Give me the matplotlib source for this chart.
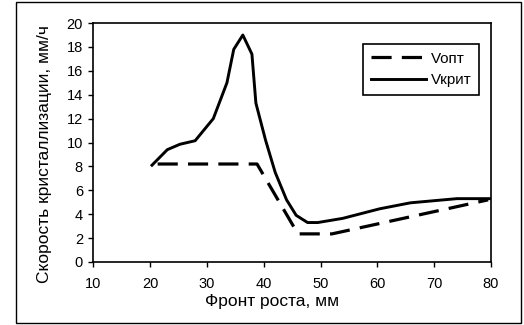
import matplotlib
matplotlib.use('Agg')
import matplotlib.pyplot as plt
from matplotlib.patches import Rectangle

plt.rcParams['font.family'] = ['Liberation Sans', 'DejaVu Sans']

# Vкрит (solid)
x_krit = [20.3, 23.0, 25.2, 27.9, 31.1, 33.5, 34.7, 36.3, 37.9, 38.6, 40.3, 42.0,
          44.0, 45.7, 47.7, 49.5, 53.9, 60.4, 65.8, 74.0, 79.9]
v_krit = [8.1, 9.4, 9.85, 10.15, 12.0, 15.0, 17.8, 19.0, 17.4, 13.3, 10.2, 7.5,
          5.2, 3.9, 3.3, 3.3, 3.65, 4.45, 4.95, 5.3, 5.3]
# Vопт (dashed)
x_opt = [21.3, 38.8, 46.0, 52.0, 79.5]
v_opt = [8.2, 8.2, 2.35, 2.35, 5.2]

fig = plt.figure(figsize=(5.24, 3.25), dpi=100)
ax = fig.add_axes([0.1784, 0.194, 0.937 - 0.1784, 0.929 - 0.194])

ax.plot(x_opt, v_opt, color='black', lw=2.3, ls=(0, (6.3, 3.2)), label='Vопт')
ax.plot(x_krit, v_krit, color='black', lw=2.1, label='Vкрит')

ax.set_xlim(10, 80)
ax.set_ylim(0, 20)
ax.set_xticks(range(10, 81, 10))
ax.set_yticks(range(0, 21, 2))
ax.tick_params(direction='out', length=3.6, width=1, labelsize=10.5)
ax.tick_params(axis='x', pad=7)
ax.tick_params(axis='y', pad=4)
for s in ax.spines.values():
    s.set_linewidth(1.2)
ax.set_xlabel('Фронт роста, мм', fontsize=12.5, va='top')
ax.xaxis.set_label_coords(0.449, -0.134)
ax.set_ylabel('Скорость кристаллизации, мм/ч', fontsize=12.5)
ax.yaxis.set_label_coords(-0.104, 0.454)

leg = ax.legend(loc='upper right', bbox_to_anchor=(0.97, 0.912), fancybox=False,
                edgecolor='black', framealpha=1, fontsize=11, handlelength=3.6,
                handletextpad=0.3, borderpad=0.5, labelspacing=0.5,
                borderaxespad=0)
leg.get_frame().set_linewidth(1.2)

fig.patches.append(Rectangle((16 / 524, 2 / 325), 505 / 524, 321 / 325,
                             transform=fig.transFigure, fill=False,
                             edgecolor='black', lw=1.0))

fig.savefig('out.png', dpi=100)
